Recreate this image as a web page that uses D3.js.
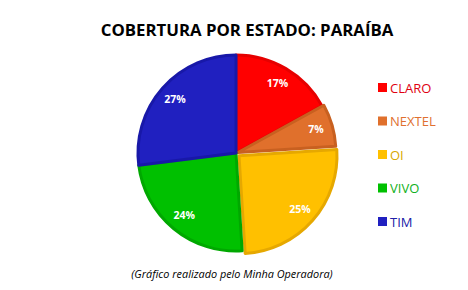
<!DOCTYPE html>
<html>
<head>
<meta charset="utf-8">
<script src="https://cdn.jsdelivr.net/npm/d3@7"></script>
<style>
  body { margin: 0; background: #fff; }
  text { font-family: "Open Sans", "Noto Sans", sans-serif; }
</style>
</head>
<body>
<svg class="pie" width="468" height="290"></svg>
<script>
const operators = ["CLARO", "NEXTEL", "OI", "VIVO", "TIM"];
const shares = [17, 7, 25, 24, 27];
const colors = ["#ff0000", "#e0702c", "#ffc000", "#00c000", "#2020c0"];
const edges = ["#e60000", "#c86020", "#e6a800", "#00a800", "#1818a8"];
const textColors = ["#e00010", "#e07030", "#d8a800", "#10b020", "#2020a8"];
const exploded = [0, 2, 4, 0, 0];

const svg = d3.select("svg.pie");
const cx = 236, cy = 153, radius = 98;

svg.append("text")
    .attr("x", 247)
    .attr("y", 36)
    .attr("text-anchor", "middle")
    .attr("font-size", 16.8)
    .attr("font-weight", "bold")
    .attr("fill", "#000")
    .text("COBERTURA POR ESTADO: PARAÍBA");

const pie = d3.pie().sort(null).value(d => d);
const arcs = pie(shares);
const arc = d3.arc().innerRadius(0).outerRadius(radius);
const labelArc = d3.arc().innerRadius(radius * 1.66).outerRadius(0);

const g = svg.append("g")
    .attr("transform", `translate(${cx}, ${cy})`);

const slice = g.selectAll(".slice")
    .data(arcs)
    .enter().append("g")
    .attr("class", "slice")
    .attr("transform", (d, i) => {
        const [x, y] = d3.arc().innerRadius(0).outerRadius(exploded[i] * 2).centroid(d);
        return `translate(${x}, ${y})`;
    });

slice.append("path")
    .attr("d", arc)
    .attr("fill", (d, i) => colors[i])
    .attr("stroke", (d, i) => edges[i])
    .attr("stroke-width", 3)
    .attr("stroke-linejoin", "round");

slice.append("text")
    .attr("transform", d => `translate(${labelArc.centroid(d)})`)
    .attr("text-anchor", "middle")
    .attr("dy", "0.35em")
    .attr("font-size", 10.5)
    .attr("font-weight", "bold")
    .attr("fill", "#fff")
    .text(d => `${d.data}%`);

const legend = svg.append("g")
    .attr("transform", "translate(378, 88)");

const item = legend.selectAll(".item")
    .data(operators)
    .enter().append("g")
    .attr("class", "item")
    .attr("transform", (d, i) => `translate(0, ${i * 33.5})`);

item.append("rect")
    .attr("x", 0)
    .attr("y", -5)
    .attr("width", 9)
    .attr("height", 9)
    .attr("fill", (d, i) => colors[i]);

item.append("text")
    .attr("x", 12)
    .attr("dy", "0.35em")
    .attr("font-size", 13)
    .attr("fill", (d, i) => textColors[i])
    .text(d => d);

svg.append("text")
    .attr("x", 232)
    .attr("y", 278)
    .attr("text-anchor", "middle")
    .attr("font-size", 10.9)
    .attr("font-style", "italic")
    .attr("fill", "#000")
    .text("(Gráfico realizado pelo Minha Operadora)");
</script>
</body>
</html>
